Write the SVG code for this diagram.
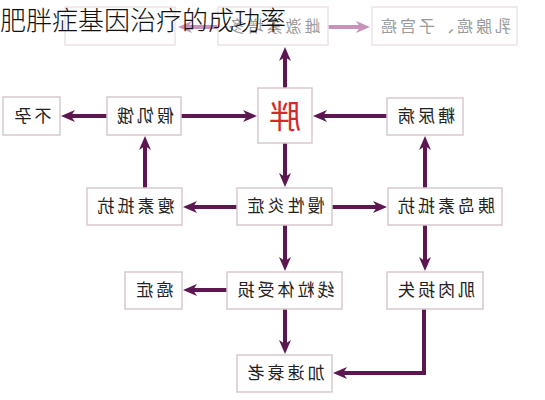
<svg xmlns="http://www.w3.org/2000/svg" width="545" height="400" viewBox="0 0 545 400">
<defs>
<style>
.box{fill:#fff;stroke:#d8c9d1;stroke-width:1.5}
.fbox{fill:#fff;stroke:#ece2e8;stroke-width:1.5}
.t{font-family:"Noto Sans CJK SC","Noto Sans CJK TC",sans-serif;font-size:17px;fill:#222;text-anchor:middle;letter-spacing:3px}
.ft{font-family:"Noto Sans CJK SC",sans-serif;font-size:16px;fill:#9a9a9a;text-anchor:middle;letter-spacing:3px}
.c{fill:none;stroke:#5c1650;stroke-width:4;marker-end:url(#a)}
.fc{fill:none;stroke:#c793bb;stroke-width:4;marker-end:url(#fa)}
</style>
<marker id="a" markerUnits="userSpaceOnUse" markerWidth="15" markerHeight="12" refX="8" refY="6" orient="auto">
<path d="M0,0 L14,6 L0,12 L4,6 z" fill="#5c1650"/>
</marker>
<marker id="fa" markerUnits="userSpaceOnUse" markerWidth="15" markerHeight="12" refX="8" refY="6" orient="auto">
<path d="M0,0 L14,6 L0,12 L4,6 z" fill="#c793bb"/>
</marker>
</defs>
<rect width="545" height="400" fill="#fff"/>
<g id="connectors">
<path class="fc" d="M218,27 H184"/>
<path class="fc" d="M328,27 H364"/>
<path class="c" d="M285,88 V53"/>
<path class="c" d="M285,143 V181"/>
<path class="c" d="M181,116 H251"/>
<path class="c" d="M107,116 H67"/>
<path class="c" d="M387,116 H319"/>
<path class="c" d="M145,188 V142"/>
<path class="c" d="M237,207 H189"/>
<path class="c" d="M332,207 H381"/>
<path class="c" d="M425,188 V142"/>
<path class="c" d="M425,225 V265"/>
<path class="c" d="M285,225 V265"/>
<path class="c" d="M227,290 H189"/>
<path class="c" d="M285,309 V348"/>
<path class="c" d="M424,309 V373 H339"/>
</g>
<g id="n-left-top"><rect class="fbox" x="65" y="7" width="110" height="38"/></g>
<g id="n-estrogen"><rect class="fbox" x="218" y="7" width="110" height="38"/>
<text class="ft" x="273" y="32" transform="matrix(-1 0 0 1 546 0)">雌激素增多</text></g>
<g id="n-cancer2"><rect class="fbox" x="372" y="7" width="145" height="38"/>
<text class="ft" x="444.5" y="32" transform="matrix(-1 0 0 1 889 0)">乳腺癌、子宫癌</text></g>
<g id="n-infertile"><rect class="box" x="3" y="97" width="57" height="38"/>
<text class="t" x="31.5" y="122" transform="matrix(-1 0 0 1 63 0)">不孕</text></g>
<g id="n-fakehunger"><rect class="box" x="107" y="97" width="74" height="38"/>
<text class="t" x="144" y="122" transform="matrix(-1 0 0 1 288 0)">假饥饿</text></g>
<g id="n-fat"><rect class="box" x="258" y="88" width="54" height="55"/>
<text x="285" y="128" text-anchor="middle" transform="matrix(-1 0 0 1 570 0)" font-family="Noto Sans CJK SC,sans-serif" font-size="32" fill="#d42a2a">胖</text></g>
<g id="n-diabetes"><rect class="box" x="387" y="98" width="76" height="37"/>
<text class="t" x="425" y="122" transform="matrix(-1 0 0 1 850 0)">糖尿病</text></g>
<g id="n-leptin"><rect class="box" x="87" y="188" width="95" height="37"/>
<text class="t" x="134.5" y="212" transform="matrix(-1 0 0 1 269 0)">瘦素抵抗</text></g>
<g id="n-inflam"><rect class="box" x="237" y="188" width="95" height="37"/>
<text class="t" x="284.5" y="212" transform="matrix(-1 0 0 1 569 0)">慢性炎症</text></g>
<g id="n-insulin"><rect class="box" x="388" y="188" width="114" height="37"/>
<text class="t" x="445" y="212" transform="matrix(-1 0 0 1 890 0)">胰岛素抵抗</text></g>
<g id="n-cancer"><rect class="box" x="125" y="272" width="57" height="37"/>
<text class="t" x="153.5" y="296" transform="matrix(-1 0 0 1 307 0)">癌症</text></g>
<g id="n-mito"><rect class="box" x="227" y="272" width="115" height="37"/>
<text class="t" x="284.5" y="296" transform="matrix(-1 0 0 1 569 0)">线粒体受损</text></g>
<g id="n-muscle"><rect class="box" x="387" y="272" width="96" height="37"/>
<text class="t" x="435" y="296" transform="matrix(-1 0 0 1 870 0)">肌肉损失</text></g>
<g id="n-aging"><rect class="box" x="237" y="355" width="95" height="37"/>
<text class="t" x="284.5" y="379" transform="matrix(-1 0 0 1 569 0)">加速衰老</text></g>
<text x="0" y="30" font-family="Noto Sans CJK SC,sans-serif" font-size="26" font-weight="300" fill="#111">肥胖症基因治疗的成功率</text>
</svg>
